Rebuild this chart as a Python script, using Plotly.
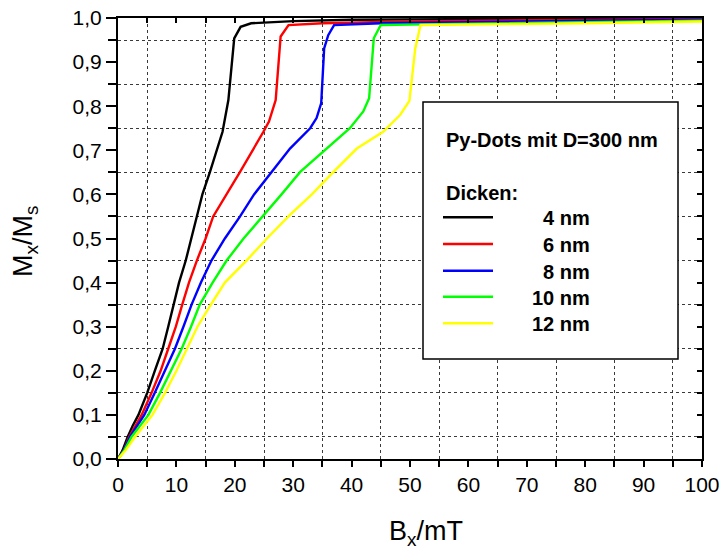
import plotly.graph_objects as go

# ---------------- data ----------------
b_4nm = [0, 0.8, 1.65, 2.5, 3.5, 5.0, 6.3, 7.65, 8.6, 9.5, 10.45, 11.6, 12.5, 13.5, 14.45,
         15.75, 17.9, 18.9, 19.9, 21.0, 22.8, 30, 40, 60, 80, 100]
m_4nm = [0, 0.02, 0.05, 0.075, 0.1, 0.15, 0.2, 0.25, 0.3, 0.35, 0.4, 0.45, 0.5, 0.55, 0.6,
         0.651, 0.742, 0.814, 0.954, 0.98, 0.988, 0.993, 0.996, 0.998, 0.999, 1.0]

b_6nm = [0, 1.0, 1.9, 4.05, 5.75, 7.3, 8.6, 9.9, 11.0, 12.15, 13.5, 15.0, 16.3, 18.6, 20.9,
         24.9, 25.85, 27.0, 27.85, 29.2, 35, 50, 70, 100]
m_6nm = [0, 0.02, 0.05, 0.1, 0.15, 0.2, 0.25, 0.3, 0.35, 0.4, 0.45, 0.5, 0.55, 0.6, 0.651,
         0.742, 0.765, 0.814, 0.958, 0.984, 0.988, 0.992, 0.995, 0.997]

b_8nm = [0, 1.0, 2.05, 4.5, 6.3, 8.05, 9.75, 11.2, 12.6, 14.2, 16.0, 18.3, 20.9, 23.3, 26.3,
         29.45, 32.9, 34.0, 34.8, 35.3, 36.0, 37.0, 45, 60, 80, 100]
m_8nm = [0, 0.02, 0.05, 0.1, 0.15, 0.2, 0.25, 0.3, 0.35, 0.4, 0.45, 0.5, 0.55, 0.6, 0.651,
         0.704, 0.75, 0.773, 0.807, 0.931, 0.961, 0.984, 0.988, 0.991, 0.994, 0.996]

b_10nm = [0, 1.1, 2.3, 5.2, 7.2, 9.1, 10.9, 12.5, 14.0, 16.2, 18.6, 21.5, 24.8, 28.0, 31.2,
          35.5, 39.7, 42.0, 43.0, 43.8, 45.0, 55, 75, 100]
m_10nm = [0, 0.02, 0.05, 0.1, 0.15, 0.2, 0.25, 0.3, 0.35, 0.4, 0.45, 0.5, 0.55, 0.6, 0.651,
          0.7, 0.75, 0.788, 0.818, 0.954, 0.984, 0.986, 0.99, 0.994]

b_12nm = [0, 1.3, 2.9, 5.9, 8.05, 10.0, 11.8, 13.6, 15.9, 18.3, 22.0, 25.5, 29.4, 33.2, 36.9,
          40.9, 45.4, 48.3, 49.9, 50.9, 51.8, 60, 80, 100]
m_12nm = [0, 0.02, 0.05, 0.1, 0.15, 0.2, 0.25, 0.3, 0.35, 0.4, 0.45, 0.5, 0.553, 0.6, 0.651,
          0.704, 0.742, 0.78, 0.812, 0.931, 0.984, 0.985, 0.988, 0.992]

series_names = ["4 nm", "6 nm", "8 nm", "10 nm", "12 nm"]
series_colors = ["#000000", "#ff0000", "#0000ff", "#00ff00", "#ffff00"]
series_b = [b_4nm, b_6nm, b_8nm, b_10nm, b_12nm]
series_m = [m_4nm, m_6nm, m_8nm, m_10nm, m_12nm]

x_tickvals = [0, 10, 20, 30, 40, 50, 60, 70, 80, 90, 100]
x_ticktext = ["0", "10", "20", "30", "40", "50", "60", "70", "80", "90", "100"]
x_minorvals = [5, 15, 25, 35, 45, 55, 65, 75, 85, 95]
y_tickvals = [0.0, 0.1, 0.2, 0.3, 0.4, 0.5, 0.6, 0.7, 0.8, 0.9, 1.0]
y_ticktext = ["0,0", "0,1", "0,2", "0,3", "0,4", "0,5", "0,6", "0,7", "0,8", "0,9", "1,0"]
y_minorvals = [0.05, 0.15, 0.25, 0.35, 0.45, 0.55, 0.65, 0.75, 0.85, 0.95]
x_allvals = sorted(x_tickvals + x_minorvals)
y_allvals = sorted(y_tickvals + y_minorvals)

legend_title = "Py-Dots mit D=300 nm"
legend_subtitle = "Dicken:"
x_title = "B<sub>x</sub>/mT"
y_title = "M<sub>x</sub>/M<sub>s</sub>"

# ---------------- layout geometry ----------------
W, H = 722, 550
L, R, T, B = 118, 20, 18, 91
PW, PH = W - L - R, H - T - B
FONT = "Liberation Sans, Arial, Helvetica, sans-serif"


def px(xp):
    return (xp - L) / PW


def py(yp):
    return (H - B - yp) / PH


fig = go.Figure()
for name, bx, mx, col in zip(series_names, series_b, series_m, series_colors):
    fig.add_trace(go.Scatter(x=bx, y=mx, mode="lines", name=name,
                             line=dict(color=col, width=2.4), showlegend=False))

# dummy trace so the mirrored top/right axes are drawn
fig.add_trace(go.Scatter(x=[None], y=[None], xaxis="x2", yaxis="y2",
                         showlegend=False, hoverinfo="skip"))

grid = dict(showgrid=True, gridcolor="#3a3a3a", griddash="dot", gridwidth=1)

fig.update_layout(
    width=W, height=H,
    margin=dict(l=L, r=R, t=T, b=B, pad=0, autoexpand=False),
    paper_bgcolor="white", plot_bgcolor="white",
    font=dict(family=FONT, color="black"),
    xaxis=dict(range=[0, 100], tickmode="array", tickvals=x_tickvals, ticktext=x_ticktext,
               ticks="outside", ticklen=6, tickwidth=1.5, tickcolor="black", automargin=False,
               tickfont=dict(size=21, family=FONT, color="black"),
               showline=True, linewidth=2, linecolor="black", showgrid=False, zeroline=False,
               minor=dict(tickmode="array", tickvals=x_minorvals, ticks="outside", ticklen=6,
                          tickwidth=1.5, tickcolor="black", **grid)),
    yaxis=dict(range=[0, 1], tickmode="array", tickvals=y_tickvals, ticktext=y_ticktext,
               ticks="outside", ticklen=10, tickwidth=1.5, tickcolor="black", automargin=False,
               tickfont=dict(size=21, family=FONT, color="black"),
               showline=True, linewidth=2, linecolor="black", showgrid=False, zeroline=False,
               minor=dict(tickmode="array", tickvals=y_minorvals, ticks="outside", ticklen=8,
                          tickwidth=1.5, tickcolor="black", **grid)),
    xaxis2=dict(range=[0, 100], overlaying="x", side="top", anchor="y2", automargin=False,
                tickmode="array", tickvals=x_allvals, ticks="inside", ticklen=5, tickwidth=1.5,
                tickcolor="black", showticklabels=False, showline=True, linewidth=2,
                linecolor="black", showgrid=False, zeroline=False),
    yaxis2=dict(range=[0, 1], overlaying="y", side="right", anchor="x2", automargin=False,
                tickmode="array", tickvals=y_allvals, ticks="inside", ticklen=5, tickwidth=1.5,
                tickcolor="black", showticklabels=False, showline=True, linewidth=2,
                linecolor="black", showgrid=False, zeroline=False),
    showlegend=False,
)

annotations = [
    dict(text=x_title, xref="paper", yref="paper", x=px(426), y=py(533),
         xanchor="center", yanchor="middle", showarrow=False,
         font=dict(size=27, family=FONT, color="black")),
    dict(text=y_title, xref="paper", yref="paper", x=px(25), y=py(242),
         xanchor="center", yanchor="middle", showarrow=False, textangle=-90,
         font=dict(size=27, family=FONT, color="black")),
    dict(text="<b>%s</b>" % legend_title, xref="paper", yref="paper", x=px(444), y=py(140),
         xanchor="left", yanchor="middle", showarrow=False,
         font=dict(size=20, family=FONT, color="black")),
    dict(text="<b>%s</b>" % legend_subtitle, xref="paper", yref="paper", x=px(444), y=py(193),
         xanchor="left", yanchor="middle", showarrow=False,
         font=dict(size=20, family=FONT, color="black")),
]

shapes = [dict(type="rect", xref="paper", yref="paper", x0=px(423), x1=px(678),
               y0=py(359), y1=py(102), line=dict(color="black", width=1.5),
               fillcolor="white", layer="above")]

row_y = [217.3, 244.0, 270.7, 296.7, 323.3]
for name, col, ry in zip(series_names, series_colors, row_y):
    shapes.append(dict(type="line", xref="paper", yref="paper", x0=px(443), x1=px(493),
                       y0=py(ry), y1=py(ry), line=dict(color=col, width=2.5), layer="above"))
    annotations.append(dict(text="<b>%s</b>" % name, xref="paper", yref="paper",
                            x=px(592), y=py(ry + 1), xanchor="right", yanchor="middle",
                            showarrow=False, font=dict(size=20, family=FONT, color="black")))

fig.update_layout(annotations=annotations, shapes=shapes)

fig.write_html("out.html")
